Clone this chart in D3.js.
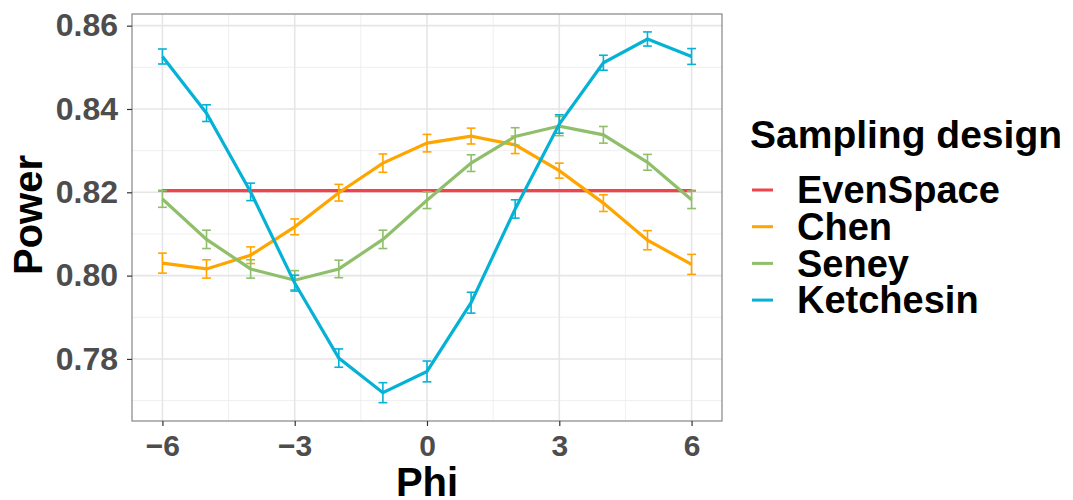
<!DOCTYPE html>
<html>
<head>
<meta charset="utf-8">
<script src="https://cdn.jsdelivr.net/npm/d3@7"></script>
<style>
  body { margin: 0; background: #fff; }
  text { font-family: "Liberation Sans", Arial, sans-serif; font-weight: bold; }
</style>
</head>
<body>
<svg width="1073" height="500"></svg>
<script>
var phi = [-6, -5, -4, -3, -2, -1, 0, 1, 2, 3, 4, 5, 6];
var designs = ["EvenSpace", "Chen", "Seney", "Ketchesin"];
var colors = ["#F0444D", "#FFA500", "#8FBF6B", "#05B2D6"];

var evenSpace = [0.8204, 0.8204, 0.8204, 0.8204, 0.8204, 0.8204, 0.8204, 0.8204, 0.8204, 0.8204, 0.8204, 0.8204, 0.8204];
var evenSpaceErr = [0, 0, 0, 0, 0, 0, 0, 0, 0, 0, 0, 0, 0];
var chen = [0.8030, 0.8016, 0.8049, 0.8117, 0.8199, 0.8270, 0.8318, 0.8335, 0.8314, 0.8252, 0.8174, 0.8085, 0.8027];
var chenErr = [0.0024, 0.0022, 0.0020, 0.0019, 0.0020, 0.0022, 0.0021, 0.0019, 0.0021, 0.0018, 0.0020, 0.0023, 0.0024];
var seney = [0.8184, 0.8087, 0.8016, 0.7989, 0.8016, 0.8087, 0.8181, 0.8270, 0.8334, 0.8359, 0.8338, 0.8272, 0.8182];
var seneyErr = [0.0020, 0.0022, 0.0022, 0.0023, 0.0021, 0.0022, 0.0020, 0.0020, 0.0021, 0.0023, 0.0020, 0.0019, 0.0021];
var ketchesin = [0.8526, 0.8390, 0.8201, 0.7982, 0.7802, 0.7719, 0.7770, 0.7935, 0.8160, 0.8364, 0.8511, 0.8568, 0.8526];
var ketchesinErr = [0.0018, 0.0020, 0.0021, 0.0019, 0.0022, 0.0024, 0.0025, 0.0025, 0.0022, 0.0022, 0.0018, 0.0017, 0.0019];

var xTicks = [-6, -3, 0, 3, 6];
var xMinor = [-4.5, -1.5, 1.5, 4.5];
var yTicks = [0.78, 0.80, 0.82, 0.84, 0.86];
var yMinor = [0.77, 0.79, 0.81, 0.83, 0.85];

var values = [evenSpace, chen, seney, ketchesin];
var errors = [evenSpaceErr, chenErr, seneyErr, ketchesinErr];

var panelL = 132, panelR = 722, panelT = 14, panelB = 421;
var svg = d3.select("svg");

var x = d3.scaleLinear().domain([-6.69, 6.69]).range([panelL, panelR]);
var y = d3.scaleLinear().domain([0.7651, 0.8628]).range([panelB, panelT]);

// grid
var grid = svg.append("g");
grid.selectAll(".xmin").data(xMinor).enter().append("line")
    .attr("x1", d => x(d)).attr("x2", d => x(d))
    .attr("y1", panelT).attr("y2", panelB)
    .attr("stroke", "#EBEBEB").attr("stroke-width", 0.8);
grid.selectAll(".ymin").data(yMinor).enter().append("line")
    .attr("x1", panelL).attr("x2", panelR)
    .attr("y1", d => y(d)).attr("y2", d => y(d))
    .attr("stroke", "#EBEBEB").attr("stroke-width", 0.8);
grid.selectAll(".xmaj").data(xTicks).enter().append("line")
    .attr("x1", d => x(d)).attr("x2", d => x(d))
    .attr("y1", panelT).attr("y2", panelB)
    .attr("stroke", "#E6E6E6").attr("stroke-width", 1.6);
grid.selectAll(".ymaj").data(yTicks).enter().append("line")
    .attr("x1", panelL).attr("x2", panelR)
    .attr("y1", d => y(d)).attr("y2", d => y(d))
    .attr("stroke", "#E6E6E6").attr("stroke-width", 1.6);

// series
var line = d3.line()
    .x(function(d, i) { return x(phi[i]); })
    .y(function(d) { return y(d); });

values.forEach(function(vals, s) {
    var g = svg.append("g");
    var err = errors[s];
    var bars = g.selectAll("g.eb").data(vals).enter().append("g")
        .attr("stroke", colors[s]).attr("stroke-width", 1.6);
    bars.append("line")
        .attr("x1", (d, i) => x(phi[i])).attr("x2", (d, i) => x(phi[i]))
        .attr("y1", (d, i) => y(d - err[i])).attr("y2", (d, i) => y(d + err[i]));
    bars.append("line")
        .attr("x1", (d, i) => x(phi[i] - 0.1)).attr("x2", (d, i) => x(phi[i] + 0.1))
        .attr("y1", (d, i) => y(d - err[i])).attr("y2", (d, i) => y(d - err[i]));
    bars.append("line")
        .attr("x1", (d, i) => x(phi[i] - 0.1)).attr("x2", (d, i) => x(phi[i] + 0.1))
        .attr("y1", (d, i) => y(d + err[i])).attr("y2", (d, i) => y(d + err[i]));
    g.append("path")
        .datum(vals)
        .attr("d", line)
        .attr("fill", "none")
        .attr("stroke", colors[s])
        .attr("stroke-width", 3.2);
});

// panel border
svg.append("rect")
    .attr("x", panelL).attr("y", panelT)
    .attr("width", panelR - panelL).attr("height", panelB - panelT)
    .attr("fill", "none").attr("stroke", "#858585").attr("stroke-width", 1.2);

// axes
var yAxis = svg.append("g")
    .attr("transform", "translate(" + panelL + ",0)")
    .call(d3.axisLeft(y).tickValues(yTicks).tickFormat(d3.format(".2f")).tickSize(5).tickPadding(9));
var xAxis = svg.append("g")
    .attr("transform", "translate(0," + panelB + ")")
    .call(d3.axisBottom(x).tickValues(xTicks).tickFormat(d3.format("d")).tickSize(5).tickPadding(9));
[xAxis, yAxis].forEach(function(a) {
    a.select(".domain").remove();
    a.selectAll(".tick line").attr("stroke", "#333333").attr("stroke-width", 1.2);
    a.selectAll(".tick text").attr("fill", "#4D4D4D").attr("font-family", "Liberation Sans, Arial, sans-serif").attr("font-weight", "bold");
});
yAxis.selectAll(".tick text").attr("font-size", 32);
xAxis.selectAll(".tick text").attr("font-size", 30);

// axis titles
svg.append("text")
    .attr("x", (panelL + panelR) / 2).attr("y", 496)
    .attr("text-anchor", "middle")
    .attr("font-size", 40)
    .text("Phi");
svg.append("text")
    .attr("transform", "translate(41.5,215) rotate(-90)")
    .attr("text-anchor", "middle")
    .attr("font-size", 40)
    .text("Power");

// legend
var legend = svg.append("g");
legend.append("text")
    .attr("x", 750).attr("y", 148)
    .attr("font-size", 39)
    .text("Sampling design");
var items = legend.selectAll("g.item").data(designs).enter().append("g")
    .attr("transform", (d, i) => "translate(0," + (190 + i * 36.7) + ")");
items.append("line")
    .attr("x1", 752).attr("x2", 773)
    .attr("y1", 0).attr("y2", 0)
    .attr("stroke", (d, i) => colors[i])
    .attr("stroke-width", 3);
items.append("text")
    .attr("x", 797).attr("y", 13.3)
    .attr("font-size", 38)
    .text(d => d);
</script>
</body>
</html>
